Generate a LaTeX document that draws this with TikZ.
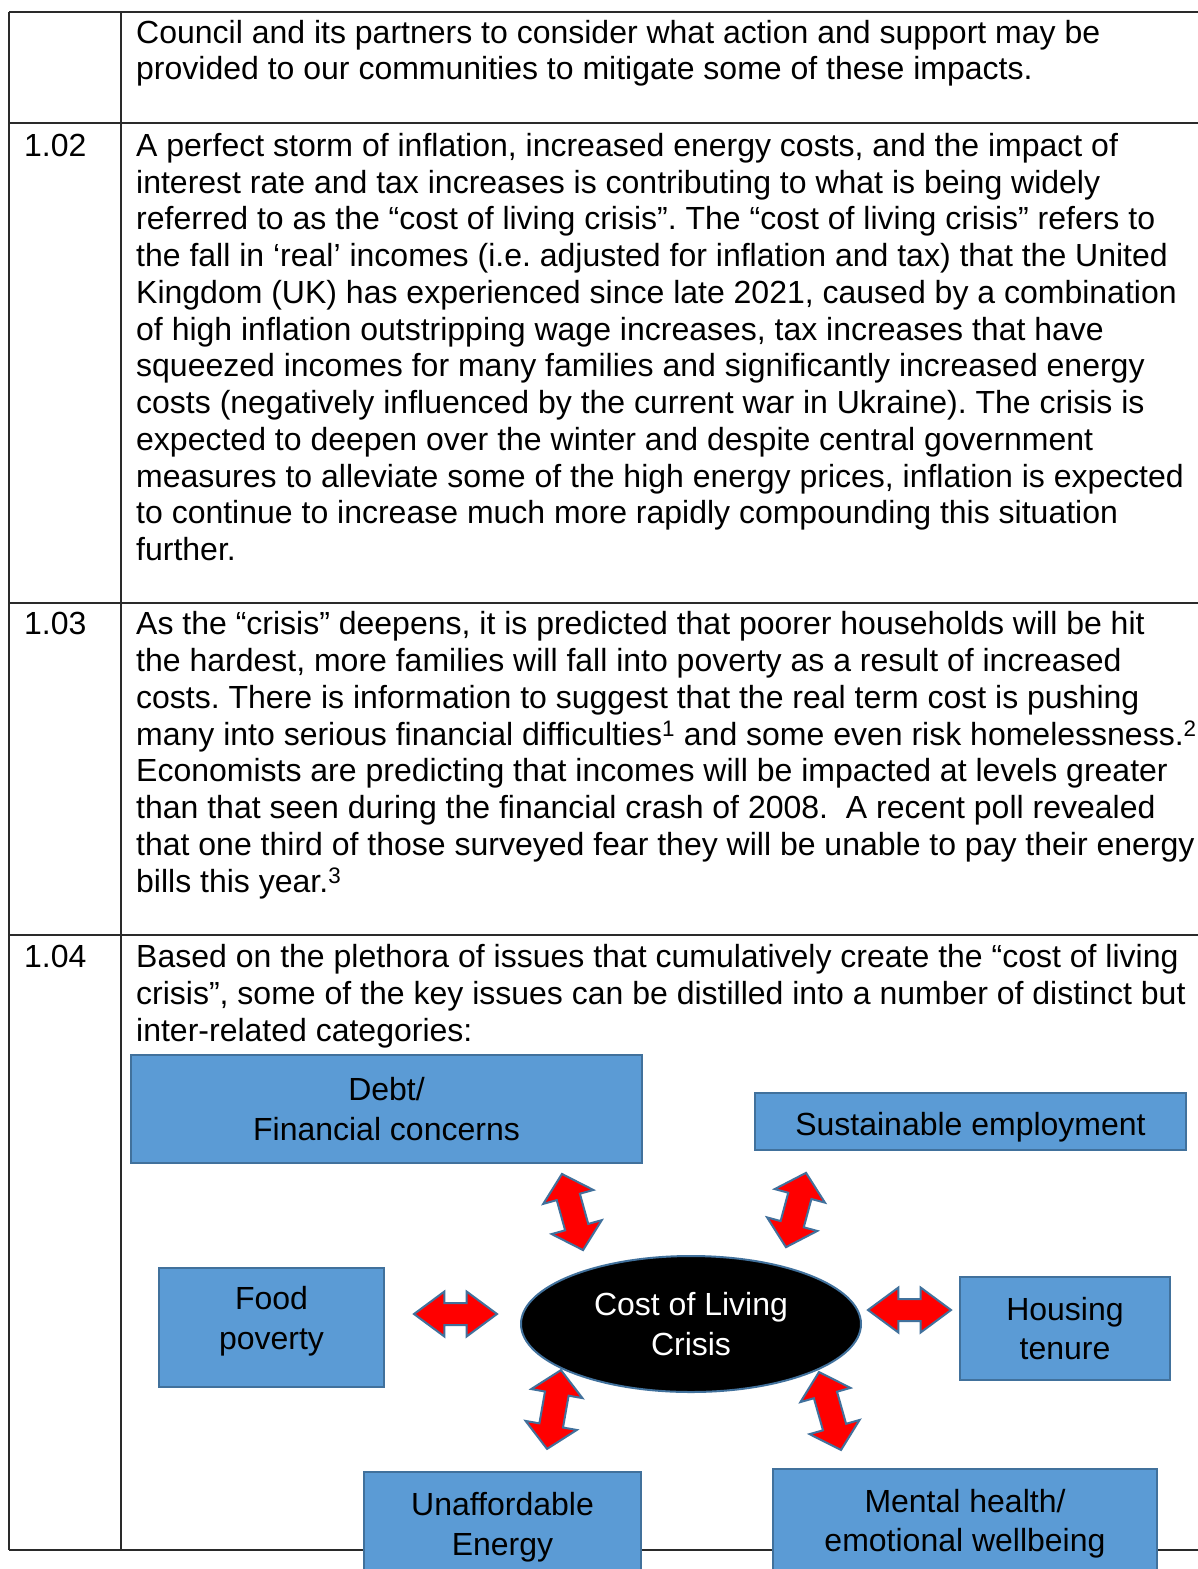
\documentclass[tikz,border=0pt]{standalone}
\usepackage{fontspec}
\setmainfont{Liberation Sans}
\usetikzlibrary{shapes.geometric,shapes.arrows}
\definecolor{boxfill}{HTML}{5B9BD5}
\definecolor{boxline}{HTML}{41719C}
\definecolor{tline}{HTML}{2A2A2A}
\frenchspacing
\begin{document}
\begin{tikzpicture}[x=1pt,y=-1pt,
  tableline/.style={draw=tline,line width=1.4pt},
  body/.style={anchor=base west,inner sep=0pt,align=left,font=\fontsize{32}{#1}\selectfont},
  num/.style={anchor=base west,inner sep=0pt,font=\fontsize{32}{36.8}\selectfont},
  catbox/.style={rectangle,draw=boxline,fill=boxfill,line width=2pt,inner sep=0pt},
  boxtext/.style={inner sep=0pt,align=center,font=\fontsize{32}{39.5}\selectfont},
  tiltarrow/.style={double arrow,draw=boxline,fill=red,line width=2pt,inner xsep=0pt,inner ysep=11pt,
    double arrow head extend=14pt,double arrow tip angle=95,minimum width=0pt},
  flatarrow/.style={double arrow,draw=boxline,fill=red,line width=2pt,inner xsep=0pt,inner ysep=10pt,
    double arrow head extend=11.5pt,double arrow tip angle=73,minimum width=0pt}]
\useasboundingbox (0,0) rectangle (1198,1569);
\clip (0,0) rectangle (1198,1569);
\fill[white] (0,0) rectangle (1198,1569);

% table rules
\draw[tableline] (9,12) -- (1198,12);
\draw[tableline] (9,123) -- (1198,123);
\draw[tableline] (9,603) -- (1198,603);
\draw[tableline] (9,935) -- (1198,935);
\draw[tableline] (9,1550) -- (1198,1550);
\draw[tableline] (9,12) -- (9,1550);
\draw[tableline] (121,12) -- (121,1550);

% row 1 (anchored at the baseline of its last line)
\node[body=36.8] (r1) at (136,79.8) {Council and its partners to consider what action and support may be\\
provided to our communities to mitigate some of these impacts.};

% row 2
\node[num] (n2) at (24,156.5) {1.02};
\node[body=36.73] (r2) at (136,560.5) {A perfect storm of inflation, increased energy costs, and the impact of\\
interest rate and tax increases is contributing to what is being widely\\
referred to as the “cost of living crisis”. The “cost of living crisis” refers to\\
the fall in ‘real’ incomes (i.e. adjusted for inflation and tax) that the United\\
Kingdom (UK) has experienced since late 2021, caused by a combination\\
of high inflation outstripping wage increases, tax increases that have\\
squeezed incomes for many families and significantly increased energy\\
costs (negatively influenced by the current war in Ukraine). The crisis is\\
expected to deepen over the winter and despite central government\\
measures to alleviate some of the high energy prices, inflation is expected\\
to continue to increase much more rapidly compounding this situation\\
further.};

% row 3
\node[num] (n3) at (24,634.5) {1.03};
\node[body=36.86] (r3) at (136,892.5) {As the “crisis” deepens, it is predicted that poorer households will be hit\\
the hardest, more families will fall into poverty as a result of increased\\
costs. There is information to suggest that the real term cost is pushing\\
many into serious financial difficulties\textsuperscript{1} and some even risk homelessness.\textsuperscript{2}\\
Economists are predicting that incomes will be impacted at levels greater\\
than that seen during the financial crash of 2008.~~A recent poll revealed\\
that one third of those surveyed fear they will be unable to pay their energy\\
bills this year.\textsuperscript{3}};

% row 4
\node[num] (n4) at (24,967.5) {1.04};
\node[body=37] (r4) at (136,1041.5) {Based on the plethora of issues that cumulatively create the “cost of living\\
crisis”, some of the key issues can be distilled into a number of distinct but\\
inter-related categories:};

% category boxes
\node[catbox,minimum width=511pt,minimum height=108pt] (debt) at (386.5,1109) {};
\node[boxtext] (debttext) at (debt.center) {Debt/\\Financial concerns};
\node[catbox,minimum width=431pt,minimum height=57pt] (employ) at (970.5,1121.5) {};
\node[boxtext,yshift=-6pt] (employtext) at (employ.center) {Sustainable employment};
\node[catbox,minimum width=225pt,minimum height=119pt] (food) at (271.5,1327.5) {};
\node[boxtext,yshift=6.5pt] (foodtext) at (food.center) {Food\\poverty};
\node[catbox,minimum width=210pt,minimum height=103pt] (housing) at (1065,1328.5) {};
\node[boxtext] (housingtext) at (housing.center) {Housing\\tenure};
\node[catbox,minimum width=277pt,minimum height=100pt] (energy) at (502.5,1522) {};
\node[boxtext,yshift=-5pt] (energytext) at (energy.center) {Unaffordable\\Energy};
\node[catbox,minimum width=384pt,minimum height=103pt] (mental) at (965,1520.5) {};
\node[boxtext,yshift=-3pt] (mentaltext) at (mental.center) {Mental health/\\emotional wellbeing};

% centre
\node[ellipse,fill=black,draw=boxline,line width=2pt,minimum width=340pt,minimum height=136pt,inner sep=0pt,
  text=white,align=center,font=\fontsize{32}{39.5}\selectfont] (col) at (691,1324) {Cost of Living\\Crisis};

% block arrows
\node[tiltarrow,minimum height=79pt,rotate=-74.5] (a1) at (572.5,1212) {};
\node[tiltarrow,minimum height=77pt,rotate=74.9] (a2) at (796,1210) {};
\node[flatarrow,minimum height=83pt] (a3) at (455.5,1314) {};
\node[flatarrow,minimum height=83pt] (a4) at (909.5,1310) {};
\node[tiltarrow,minimum height=80pt,rotate=80] (a5) at (554,1409.5) {};
\node[tiltarrow,minimum height=81pt,rotate=-74.2] (a6) at (830,1411) {};
\end{tikzpicture}
\end{document}
